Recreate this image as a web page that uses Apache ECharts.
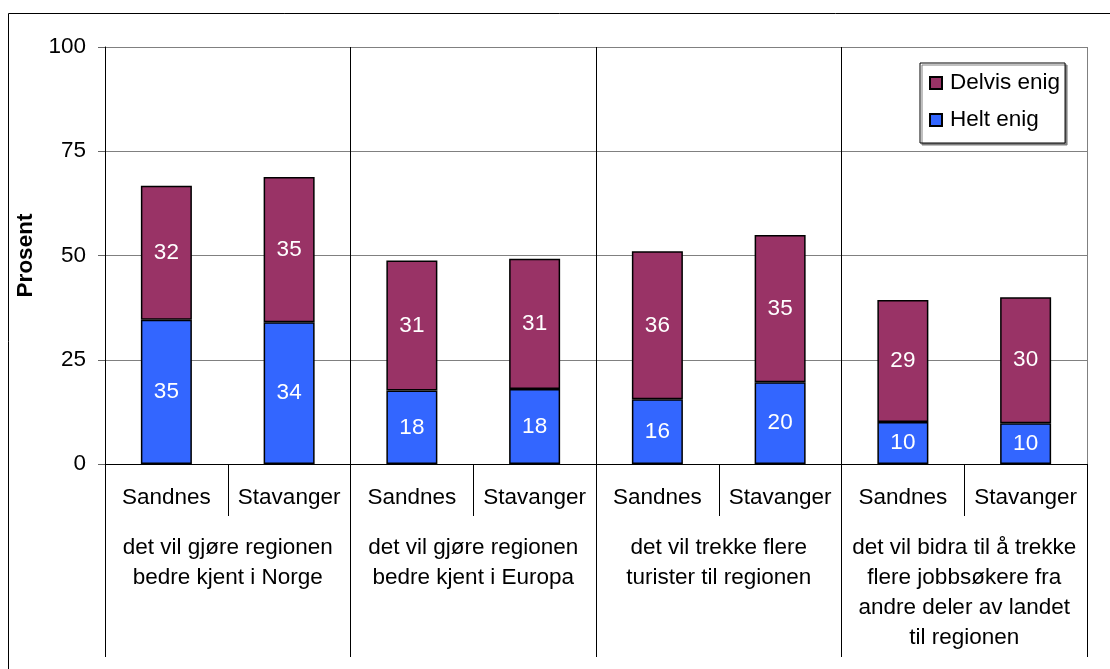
<!DOCTYPE html>
<html>
<head>
<meta charset="utf-8">
<script src="https://cdn.jsdelivr.net/npm/echarts@6/dist/echarts.min.js"></script>
<style>
html,body{margin:0;padding:0;background:#fff;}
#chart{width:1110px;height:669px;}
</style>
</head>
<body>
<div id="chart"></div>
<script>
var cities = ['Sandnes','Stavanger','Sandnes','Stavanger','Sandnes','Stavanger','Sandnes','Stavanger'];
var groups = [
  'det vil gjøre regionen\nbedre kjent i Norge',
  'det vil gjøre regionen\nbedre kjent i Europa',
  'det vil trekke flere\nturister til regionen',
  'det vil bidra til å trekke\nflere jobbsøkere fra\nandre deler av landet\ntil regionen'
];
var heltEnig  = [34.6, 34.0, 17.6, 18.0, 15.5, 19.6, 10.1, 9.8];
var delvisEnig = [32.1, 34.8, 31.2, 31.2, 35.5, 35.3, 29.2, 30.2];
var yTicks = [0, 25, 50, 75, 100];

var FONT = '"Liberation Sans", Arial, sans-serif';
var FS = 22.5;
var chart = echarts.init(document.getElementById('chart'));
var labelCfg = {
  show: true, position: 'inside', color: '#fff', fontSize: FS, fontFamily: FONT,
  formatter: function (p) { return Math.round(p.value); }
};
chart.setOption({
  animation: false,
  textStyle: {fontFamily: FONT},
  graphic: [{
    type: 'rect', silent: true, z: -10,
    shape: {x: 8.5, y: 13.5, width: 1200, height: 800},
    style: {fill: 'none', stroke: '#000', lineWidth: 1}
  }],
  grid: {left: 105, right: 23, top: 47, bottom: 205, containLabel: false},
  legend: {
    data: ['Delvis enig', 'Helt enig'],
    orient: 'vertical', left: 920, top: 63,
    icon: 'rect', itemWidth: 12, itemHeight: 12, itemGap: 11,
    padding: [7, 5, 10, 9],
    borderColor: '#000', borderWidth: 1, backgroundColor: '#fff',
    shadowColor: '#808080', shadowBlur: 0, shadowOffsetX: 2, shadowOffsetY: 2,
    textStyle: {fontSize: FS, color: '#000', fontFamily: FONT, lineHeight: 26, padding: [0, 0, 0, 3]}
  },
  xAxis: [{
    type: 'category', data: cities, position: 'bottom',
    axisLine: {show: true, lineStyle: {color: '#000', width: 1}},
    axisTick: {show: true, interval: 0, length: 52, lineStyle: {color: '#000'}},
    axisLabel: {interval: 0, margin: 19.5, fontSize: FS, color: '#000', lineHeight: 29, fontFamily: FONT},
    splitLine: {show: false}
  }, {
    type: 'category', data: groups, position: 'bottom',
    axisLine: {show: false},
    axisTick: {show: true, interval: 0, length: 193, lineStyle: {color: '#000'}},
    axisLabel: {interval: 0, margin: 69, fontSize: FS, color: '#000', lineHeight: 30, fontFamily: FONT},
    splitLine: {show: true, interval: 0, lineStyle: {color: ['#000', '#000', '#000', '#000', '#808080'], width: 1}}
  }],
  yAxis: {
    type: 'value', min: yTicks[0], max: yTicks[yTicks.length - 1], interval: 25,
    name: 'Prosent', nameLocation: 'middle', nameGap: 64, nameRotate: 90,
    nameTextStyle: {fontSize: FS, fontWeight: 'bold', color: '#000', fontFamily: FONT},
    axisLine: {show: true, lineStyle: {color: '#000'}},
    axisTick: {show: true, length: 7, lineStyle: {color: '#666'}},
    axisLabel: {margin: 19, fontSize: FS, color: '#000', fontFamily: FONT},
    splitLine: {show: true, lineStyle: {color: '#808080', width: 1}}
  },
  series: [{
    name: 'Helt enig', type: 'bar', stack: 'a', xAxisIndex: 0, barWidth: 51,
    data: heltEnig,
    itemStyle: {color: '#3366FF', borderColor: '#000', borderWidth: 1.5},
    label: labelCfg
  }, {
    name: 'Delvis enig', type: 'bar', stack: 'a', xAxisIndex: 0, barWidth: 51,
    data: delvisEnig,
    itemStyle: {color: '#993366', borderColor: '#000', borderWidth: 1.5},
    label: labelCfg
  }]
});
</script>
</body>
</html>
